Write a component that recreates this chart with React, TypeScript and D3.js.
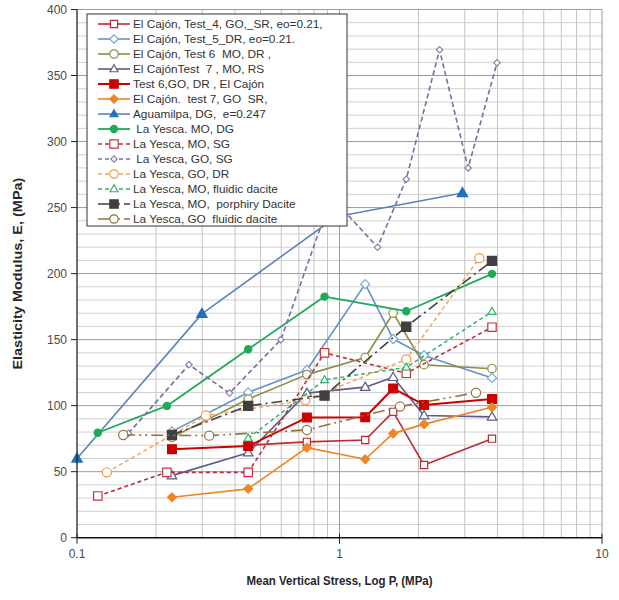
import React from 'react';
import * as d3 from 'd3';

// ---------- tick labels ----------
const xTickValues = [0.1, 1, 10];
const xTickLabels = ['0.1', '1', '10'];
const yTickValues = [0, 50, 100, 150, 200, 250, 300, 350, 400];

// ---------- data (P in MPa, E in MPa) ----------
const test4P = [0.449, 0.751, 1.253, 1.601, 2.1, 3.81];
const test4E = [70, 72.6, 74, 95.3, 55, 75];

const test5P = [0.23, 0.449, 0.751, 1.253, 1.601, 2.1, 3.81];
const test5E = [80.5, 110, 127, 192, 150.5, 138, 121];

const test6moP = [0.23, 0.449, 0.751, 1.253, 1.601, 2.1, 3.81];
const test6moE = [76, 105, 123.5, 136.5, 170, 131, 128];

const test7moP = [0.23, 0.449, 0.751, 1.253, 1.601, 2.1, 3.81];
const test7moE = [47, 64.4, 109.5, 114, 121.5, 92.5, 91.5];

const test6goP = [0.23, 0.449, 0.751, 1.253, 1.601, 2.1, 3.81];
const test6goE = [67, 69.4, 91, 91.2, 113, 100.5, 105];

const test7goP = [0.23, 0.449, 0.751, 1.253, 1.601, 2.1, 3.81];
const test7goE = [30.6, 37, 68.2, 59.4, 79, 86, 98.8];

const aguaP = [0.1, 0.299, 0.97, 2.94];
const aguaE = [60, 169.5, 243, 261];

const yMoDgP = [0.12, 0.22, 0.449, 0.877, 1.796, 3.81];
const yMoDgE = [79.5, 99.8, 142.7, 182.6, 171.5, 199.8];

const yMoSgP = [0.12, 0.22, 0.449, 0.877, 1.796, 3.81];
const yMoSgE = [31.6, 49.5, 49.5, 140, 124.5, 159.4];

const yGoSgP = [0.157, 0.267, 0.381, 0.598, 0.93, 1.396, 1.796, 2.405, 3.09, 3.98];
const yGoSgE = [79, 131, 109.5, 150, 258, 220, 271.5, 369.5, 280, 359.6];

const yGoDrP = [0.13, 0.31, 0.74, 1.796, 3.41];
const yGoDrE = [49.5, 92.5, 104, 135, 211.7];

const yMoFdP = [0.449, 0.877, 1.796, 3.81];
const yMoFdE = [75.3, 119.5, 129, 171.2];

const yMoPdP = [0.23, 0.449, 0.877, 1.796, 3.81];
const yMoPdE = [77.8, 99.8, 107.6, 159.8, 209.6];

const yGoFdP = [0.15, 0.319, 0.751, 1.7, 3.31];
const yGoFdE = [77.8, 77.3, 81.6, 99.3, 109.8];

const seriesNames = [
  'El Cajón, Test_4, GO,_SR, eo=0.21,',
  'El Cajón, Test_5_DR, eo=0.21.',
  'El Cajón, Test 6  MO, DR ,',
  'El CajónTest  7 , MO, RS',
  'Test 6,GO, DR , El Cajón',
  'El Cajón.  test 7, GO  SR,',
  'Aguamilpa, DG,  e=0.247',
  ' La Yesca. MO, DG',
  'La Yesca, MO, SG',
  ' La Yesca, GO, SG',
  'La Yesca, GO, DR',
  'La Yesca, MO, fluidic dacite',
  'La Yesca, MO,  porphiry Dacite',
  'La Yesca, GO  fluidic dacite',
];

type MarkerType = 'square' | 'diamond' | 'circle' | 'triangle';
interface Series {
  name: string;
  p: number[];
  e: number[];
  color: string;
  mColor: string;
  marker: MarkerType;
  filled: boolean;
  size: number;
  dash: string | null;
  width: number;
}

const series: Series[] = [
  { name: seriesNames[0], p: test4P, e: test4E, color: '#BE2A30', mColor: '#BE2A30', marker: 'square', filled: false, size: 3.6, dash: null, width: 1.6 },
  { name: seriesNames[1], p: test5P, e: test5E, color: '#6392C8', mColor: '#6FA8DC', marker: 'diamond', filled: false, size: 4.6, dash: null, width: 1.6 },
  { name: seriesNames[2], p: test6moP, e: test6moE, color: '#8C8E45', mColor: '#8C8E45', marker: 'circle', filled: false, size: 4.2, dash: null, width: 1.6 },
  { name: seriesNames[3], p: test7moP, e: test7moE, color: '#5C5C88', mColor: '#5C5C88', marker: 'triangle', filled: false, size: 5, dash: null, width: 1.6 },
  { name: seriesNames[4], p: test6goP, e: test6goE, color: '#CC0000', mColor: '#CC0000', marker: 'square', filled: true, size: 4.4, dash: null, width: 2 },
  { name: seriesNames[5], p: test7goP, e: test7goE, color: '#EF8424', mColor: '#EF8424', marker: 'diamond', filled: true, size: 4.4, dash: null, width: 1.6 },
  { name: seriesNames[6], p: aguaP, e: aguaE, color: '#5B84B5', mColor: '#1F70BF', marker: 'triangle', filled: true, size: 5.5, dash: null, width: 1.6 },
  { name: seriesNames[7], p: yMoDgP, e: yMoDgE, color: '#1FAA58', mColor: '#1FAA58', marker: 'circle', filled: true, size: 3.6, dash: null, width: 1.8 },
  { name: seriesNames[8], p: yMoSgP, e: yMoSgE, color: '#B5303A', mColor: '#C8323C', marker: 'square', filled: false, size: 4.2, dash: '4,3', width: 1.6 },
  { name: seriesNames[9], p: yGoSgP, e: yGoSgE, color: '#7A6E9C', mColor: '#8A7EAE', marker: 'diamond', filled: false, size: 3.2, dash: '5,3', width: 1.6 },
  { name: seriesNames[10], p: yGoDrP, e: yGoDrE, color: '#F4A460', mColor: '#EE9848', marker: 'circle', filled: false, size: 4.6, dash: '4,3', width: 1.5 },
  { name: seriesNames[11], p: yMoFdP, e: yMoFdE, color: '#2DB56A', mColor: '#2DB56A', marker: 'triangle', filled: false, size: 4.2, dash: '4,3', width: 1.5 },
  { name: seriesNames[12], p: yMoPdP, e: yMoPdE, color: '#404040', mColor: '#404040', marker: 'square', filled: true, size: 4.6, dash: '11,4,2,4', width: 1.6 },
  { name: seriesNames[13], p: yGoFdP, e: yGoFdE, color: '#94713F', mColor: '#94713F', marker: 'circle', filled: false, size: 4.6, dash: '12,4,2,4,2,4', width: 1.6 },
];

const W = 619;
const H = 600;
const x = d3.scaleLog().domain([0.1, 10]).range([77, 602]);
const y = d3.scaleLinear().domain([0, 400]).range([537.7, 9.5]);

function markerPath(t: MarkerType, h: number): string {
  if (t === 'square') return `M${-h},${-h}H${h}V${h}H${-h}Z`;
  if (t === 'diamond') return `M0,${-h}L${h},0L0,${h}L${-h},0Z`;
  if (t === 'triangle') return `M0,${-h}L${h * 0.95},${h * 0.65}L${-h * 0.95},${h * 0.65}Z`;
  return '';
}

function Marker({ s, cx, cy }: { s: Series; cx: number; cy: number }) {
  const fill = s.filled ? s.mColor : '#ffffff';
  if (s.marker === 'circle') {
    return <circle cx={cx} cy={cy} r={s.size} fill={fill} stroke={s.mColor} strokeWidth={1.2} />;
  }
  return (
    <path
      d={markerPath(s.marker, s.size)}
      transform={`translate(${cx},${cy})`}
      fill={fill}
      stroke={s.mColor}
      strokeWidth={1.2}
    />
  );
}

export default function App() {
  const line = d3
    .line<[number, number]>()
    .x((d) => x(d[0]))
    .y((d) => y(d[1]));

  const xMinor: number[] = [];
  [0.1, 1].forEach((b) => {
    for (let k = 2; k <= 9; k++) xMinor.push(b * k);
  });
  const yMinor = d3.range(10, 401, 10).filter((v) => v % 50 !== 0);
  const yMajor = d3.range(50, 401, 50);

  const [x0, x1] = x.range();
  const [y0, y1] = y.range();

  const legX = 87;
  const legY = 14;
  const legW = 260;
  const legH = 212;

  return (
    <svg width={W} height={H} style={{ position: 'absolute', left: 0, top: 0, background: '#fff' }} fontFamily="'Liberation Sans', Arial, sans-serif">
      <rect x={0} y={0} width={W} height={H} fill="#fff" />
      <g>
        {yMinor.map((v) => (
          <line key={'ym' + v} x1={x0} x2={x1} y1={y(v)} y2={y(v)} stroke="#D0D0D0" strokeWidth={1} />
        ))}
        {xMinor.map((v) => (
          <line key={'xm' + v} x1={x(v)} x2={x(v)} y1={y0} y2={y1} stroke="#C4C4C4" strokeWidth={1} />
        ))}
        {yMajor.map((v) => (
          <line key={'yM' + v} x1={x0} x2={x1} y1={y(v)} y2={y(v)} stroke="#9C9C9C" strokeWidth={1} />
        ))}
        {[1, 10].map((v) => (
          <line key={'xM' + v} x1={x(v)} x2={x(v)} y1={y0} y2={y1} stroke="#9C9C9C" strokeWidth={1} />
        ))}
      </g>

      {series.map((s, i) => {
        const pts = s.p.map((p, j) => [p, s.e[j]] as [number, number]);
        return (
          <g key={'s' + i}>
            <path
              d={line(pts) || ''}
              fill="none"
              stroke={s.color}
              strokeWidth={s.width}
              strokeDasharray={s.dash || undefined}
              strokeLinejoin="round"
            />
            {pts.map((d, j) => (
              <Marker key={j} s={s} cx={x(d[0])} cy={y(d[1])} />
            ))}
          </g>
        );
      })}

      <line x1={x0} x2={x1} y1={y0} y2={y0} stroke="#111" strokeWidth={1.5} />
      <line x1={x0} x2={x0} y1={y0} y2={y1} stroke="#222" strokeWidth={1.3} />
      {yTickValues.map((v) => (
        <g key={'yt' + v}>
          <line x1={x0 - 6} x2={x0} y1={y(v)} y2={y(v)} stroke="#222" strokeWidth={1} />
          <text x={x0 - 10} y={y(v)} dy="0.35em" textAnchor="end" fontSize={12} fill="#4a4a4a">
            {v}
          </text>
        </g>
      ))}
      {xTickValues.map((v, i) => (
        <g key={'xt' + v}>
          <line x1={x(v)} x2={x(v)} y1={y0 - 4} y2={y0 + 6} stroke="#222" strokeWidth={1} />
          <text x={x(v)} y={y0 + 20} textAnchor="middle" fontSize={12} fill="#4a4a4a">
            {xTickLabels[i]}
          </text>
        </g>
      ))}

      <text
        x={(x0 + x1) / 2}
        y={585}
        textAnchor="middle"
        fontSize={12.5}
        fontWeight="bold"
        fill="#262626"
        textLength={186}
        lengthAdjust="spacingAndGlyphs"
      >
        Mean Vertical Stress, Log P, (MPa)
      </text>
      <text
        transform={`translate(22,${(y0 + y1) / 2}) rotate(-90)`}
        textAnchor="middle"
        fontSize={12.5}
        fontWeight="bold"
        fill="#262626"
        textLength={192}
        lengthAdjust="spacingAndGlyphs"
      >
        Elasticity Modulus, E, (MPa)
      </text>

      <rect x={legX} y={legY} width={legW} height={legH} fill="#fff" stroke="#333" strokeWidth={1} />
      {series.map((s, i) => {
        const ly = legY + 10 + i * 15;
        const mx = 114;
        return (
          <g key={'l' + i}>
            <line
              x1={98}
              x2={130}
              y1={ly}
              y2={ly}
              stroke={s.color}
              strokeWidth={s.width}
              strokeDasharray={s.dash ? (s.dash.split(',').length > 2 ? '16,4,2,4' : '4,3') : undefined}
            />
            <Marker s={{ ...s, size: Math.min(s.size, 4.2) }} cx={mx} cy={ly} />
            <text x={133} y={ly} dy="0.35em" fontSize={11.8} fill="#333" style={{ whiteSpace: 'pre' }}>
              {s.name}
            </text>
          </g>
        );
      })}
    </svg>
  );
}
